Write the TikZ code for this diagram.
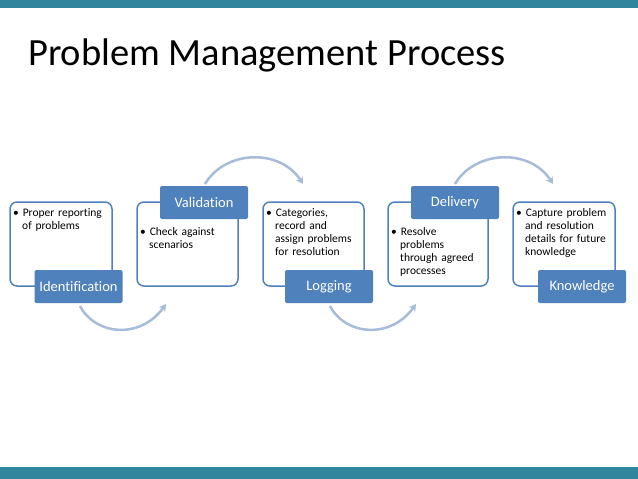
\documentclass[tikz,border=0pt]{standalone}
\usepackage{fontspec}
\setmainfont[RawFeature=-liga]{Carlito}
\usetikzlibrary{arrows.meta}
\definecolor{bar}{HTML}{31859C}
\definecolor{bl}{HTML}{4F81BD}
\definecolor{arc}{HTML}{A7BCDA}
\begin{document}
\begin{tikzpicture}[x=1pt,y=-1pt,
 box/.style={draw=bl,line width=1.5pt,rounded corners=7pt,fill=white},
 lab/.style={fill=bl,rounded corners=2pt,text=white,font=\fontsize{14.5}{16}\selectfont,minimum width=88pt,minimum height=33pt,inner sep=0pt},
 txt/.style={anchor=north west,text width=98pt,align=left,font=\fontsize{11.5}{13}\selectfont,inner sep=0pt},
 ar/.style={draw=arc,line width=2.5pt,-{Stealth[length=7pt,width=8pt]}}]
\useasboundingbox (0,0) rectangle (638,479);
\fill[bar] (0,0) rectangle (638,8);
\fill[bar] (0,467) rectangle (638,479);
\node[anchor=west,font=\fontsize{38.5}{44}\selectfont,inner sep=0pt] (title) at (28,55) {Problem Management Process};
% boxes
\draw[box] (10,202) rectangle (112,286);
\draw[box] (137,202) rectangle (238,286);
\draw[box] (263,202) rectangle (364,286);
\draw[box] (388,202) rectangle (488,286);
\draw[box] (513,202) rectangle (615,286);
\node[lab] (l1) at (78.5,286.5) {Identification};
\node[lab] (l2) at (204,202.5) {Validation};
\node[lab] (l3) at (329,286.5) {Logging};
\node[lab] (l4) at (455,202.5) {Delivery};
\node[lab] (l5) at (582,286.5) {Knowledge};
\node[txt] (t1) at (13,208) {\textbullet\ Proper reporting\\\hspace*{9pt}of problems};
\node[txt] (t2) at (140,227) {\textbullet\ Check against\\\hspace*{9pt}scenarios};
\node[txt] (t3) at (266,208) {\textbullet\ Categories,\\\hspace*{9pt}record and\\\hspace*{9pt}assign problems\\\hspace*{9pt}for resolution};
\node[txt] (t4) at (391,227) {\textbullet\ Resolve\\\hspace*{9pt}problems\\\hspace*{9pt}through agreed\\\hspace*{9pt}processes};
\node[txt] (t5) at (516,208) {\textbullet\ Capture problem\\\hspace*{9pt}and resolution\\\hspace*{9pt}details for future\\\hspace*{9pt}knowledge};
% arcs
\coordinate (a1) at (80,306); \coordinate (b1) at (166,304);
\draw[ar] (a1) .. controls (95,335) and (140,340) .. (b1);
\coordinate (a2) at (205,184); \coordinate (b2) at (303,184);
\draw[ar] (a2) .. controls (225,150) and (280,148) .. (b2);
\coordinate (a3) at (330,306); \coordinate (b3) at (416,304);
\draw[ar] (a3) .. controls (345,335) and (390,340) .. (b3);
\coordinate (a4) at (455,184); \coordinate (b4) at (553,184);
\draw[ar] (a4) .. controls (475,150) and (530,148) .. (b4);
\end{tikzpicture}
\end{document}
